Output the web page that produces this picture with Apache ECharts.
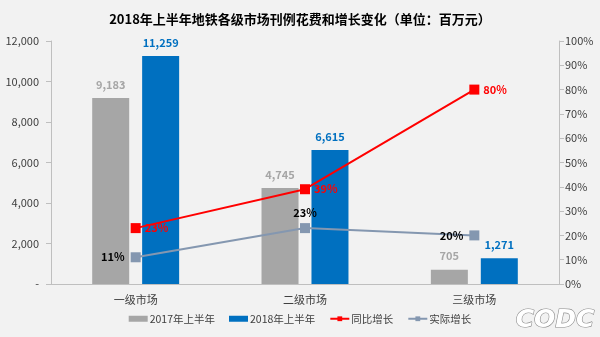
<!DOCTYPE html>
<html><head><meta charset="utf-8">
<script src="https://cdn.jsdelivr.net/npm/echarts@6/dist/echarts.min.js"></script>
<style>html,body{margin:0;padding:0;background:#f2f2f2}#c{width:600px;height:337px}</style>
</head><body><div id="c"></div>
<script>
const categories = ['一级市场', '二级市场', '三级市场'];
const spend2017 = [9183, 4745, 705];
const spend2018 = [11259, 6615, 1271];
const yoyGrowth = [23, 39, 80];
const realGrowth = [11, 23, 20];
const seriesNames = ['2017年上半年', '2018年上半年', '同比增长', '实际增长'];
const titleText = '2018年上半年地铁各级市场刊例花费和增长变化（单位：百万元）';

const font = '"Microsoft YaHei","Noto Sans CJK SC",sans-serif';
const chart = echarts.init(document.getElementById('c'));
chart.setOption({
  backgroundColor: '#f2f2f2',
  textStyle: {fontFamily: font},
  title: {text: titleText, left: 'center', top: 8,
    textStyle: {fontSize: 13, fontWeight: 'bold', color: '#000', fontFamily: font}},
  legend: {bottom: 8, left: 'center', itemGap: 14, itemWidth: 19, itemHeight: 6,
    textStyle: {fontSize: 10.5, color: '#404040', fontFamily: font, padding: [0, 0, 0, -3]},
    data: [
      {name: seriesNames[0], icon: 'rect'},
      {name: seriesNames[1], icon: 'rect'},
      {name: seriesNames[2]},
      {name: seriesNames[3]}
    ]},
  grid: {left: 51, right: 41, top: 41, bottom: 53, containLabel: false},
  xAxis: {type: 'category', data: categories,
    axisLine: {lineStyle: {color: '#bfbfbf'}}, axisTick: {show: false},
    axisLabel: {color: '#404040', fontSize: 11, margin: 10}},
  yAxis: [
    {type: 'value', min: 0, max: 12000, interval: 2000, splitLine: {show: false},
     axisLine: {show: true, lineStyle: {color: '#bfbfbf'}}, axisTick: {show: true, lineStyle: {color: '#bfbfbf'}},
     axisLabel: {color: '#404040', fontSize: 11, margin: 12,
       formatter: v => v === 0 ? '-' : v.toLocaleString('en-US')}},
    {type: 'value', min: 0, max: 100, interval: 10, splitLine: {show: false},
     axisLine: {show: true, lineStyle: {color: '#bfbfbf'}}, axisTick: {show: true, lineStyle: {color: '#bfbfbf'}},
     axisLabel: {color: '#404040', fontSize: 11, margin: 6, formatter: '{value}%'}}
  ],
  series: [
    {name: seriesNames[0], type: 'bar', data: spend2017, barWidth: 37, barGap: '35%',
     itemStyle: {color: '#a6a6a6'},
     label: {show: true, position: 'top', distance: 8, color: '#a6a6a6', fontWeight: 'bold', fontSize: 11,
       formatter: p => p.value.toLocaleString('en-US')}},
    {name: seriesNames[1], type: 'bar', data: spend2018, barWidth: 37,
     itemStyle: {color: '#0070c0'},
     label: {show: true, position: 'top', distance: 8, color: '#0070c0', fontWeight: 'bold', fontSize: 11,
       formatter: p => p.value.toLocaleString('en-US')}},
    {name: seriesNames[2], type: 'line', yAxisIndex: 1, data: yoyGrowth,
     symbol: 'rect', symbolSize: 10, lineStyle: {color: '#ff0000', width: 2},
     itemStyle: {color: '#ff0000'},
     label: {show: true, position: 'right', distance: 4, color: '#ff0000', fontWeight: 'bold', fontSize: 11,
       formatter: '{c}%'}, z: 5},
    {name: seriesNames[3], type: 'line', yAxisIndex: 1,
     symbol: 'rect', symbolSize: 10, lineStyle: {color: '#8497b0', width: 2},
     itemStyle: {color: '#8497b0'},
     label: {show: true, color: '#000', fontWeight: 'bold', fontSize: 11, formatter: '{c}%'},
     data: realGrowth.map((v, i) => ({value: v,
       label: {position: i === 1 ? 'top' : 'left', distance: i === 1 ? 5 : 6}})), z: 4}
  ],
  graphic: [{type: 'text', right: 5, bottom: 3,
    style: {text: 'CODC', font: 'italic bold 25px "DejaVu Sans", sans-serif',
      fill: '#ffffff', stroke: '#8c8c8c', lineWidth: 1.2}}]
});
</script></body></html>
